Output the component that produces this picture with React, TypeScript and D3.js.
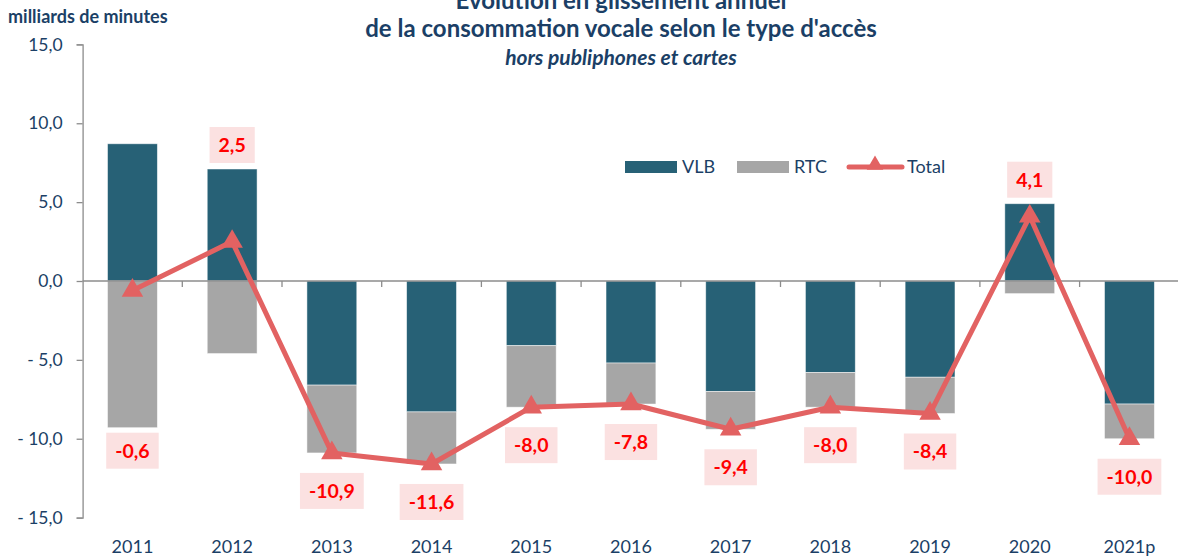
import React, { useEffect, useRef } from "react";
import * as d3 from "d3";

const years = ["2011", "2012", "2013", "2014", "2015", "2016", "2017", "2018", "2019", "2020", "2021p"];
const vlb = [8.7, 7.1, -6.6, -8.3, -4.1, -5.2, -7.0, -5.8, -6.1, 4.9, -7.8];
const rtc = [-9.3, -4.6, -4.3, -3.3, -3.9, -2.6, -2.4, -2.2, -2.3, -0.8, -2.2];
const total = [-0.6, 2.5, -10.9, -11.6, -8.0, -7.8, -9.4, -8.0, -8.4, 4.1, -10.0];
const yTicks = [15, 10, 5, 0, -5, -10, -15];

const W = 1178;
const H = 557;
const FONT = "Lato, 'Open Sans', sans-serif";
const C_VLB = "#276176";
const C_RTC = "#A6A6A6";
const C_TOT = "#E26262";
const C_TXT = "#1B3F66";

const fmtAxis = (v: number) => (v < 0 ? "- " : "") + d3.format(".1f")(Math.abs(v)).replace(".", ",");
const fmtLabel = (v: number) => (v < 0 ? "-" : "") + d3.format(".1f")(Math.abs(v)).replace(".", ",");

const App = () => {
  const svgRef = useRef<SVGSVGElement>(null);

  useEffect(() => {
    const svg = d3.select(svgRef.current);
    svg.selectAll("*").remove();

    const x = d3.scaleBand<string>().domain(years).range([82.6, 1179.3]).paddingInner(0.5).paddingOuter(0.25);
    const y = d3.scaleLinear().domain([-15, 15]).range([517.6, 44.4]);
    const step = x.step();
    const cx = (d: string) => (x(d) as number) + x.bandwidth() / 2;

    const rows = years.map((yr, i) => ({ year: yr, VLB: vlb[i], RTC: rtc[i] }));
    const stack = d3.stack<any>().keys(["VLB", "RTC"]).offset(d3.stackOffsetDiverging)(rows);
    const colors: Record<string, string> = { VLB: C_VLB, RTC: C_RTC };

    // titles (first line is cut by the top edge, as in the source image)
    const title = svg.append("g").attr("fill", C_TXT).attr("font-family", FONT).attr("text-anchor", "middle");
    title.append("text").attr("x", 621).attr("y", 9).attr("font-size", 24).attr("font-weight", "bold")
      .text("Evolution en glissement annuel");
    title.append("text").attr("x", 621).attr("y", 37).attr("font-size", 24).attr("font-weight", "bold")
      .text("de la consommation vocale selon le type d'accès");
    title.append("text").attr("x", 621).attr("y", 65).attr("font-size", 21).attr("font-weight", "bold")
      .attr("font-style", "italic").text("hors publiphones et cartes");
    svg.append("text").attr("x", 8).attr("y", 23).attr("fill", C_TXT).attr("font-family", FONT)
      .attr("font-size", 18).attr("font-weight", "bold").text("milliards de minutes");

    // bars
    stack.forEach((s) => {
      svg.append("g").selectAll("rect").data(s).enter().append("rect")
        .attr("x", (d: any) => x(d.data.year) as number)
        .attr("width", x.bandwidth())
        .attr("y", (d: any) => y(Math.max(d[0], d[1])))
        .attr("height", (d: any) => Math.abs(y(d[0]) - y(d[1])))
        .attr("fill", colors[s.key])
        .attr("stroke", "#ffffff")
        .attr("stroke-opacity", 0.6)
        .attr("stroke-width", 0.8);
    });

    // y axis
    const yAxis = svg.append("g").attr("transform", "translate(82.6,0)")
      .call(d3.axisLeft(y).tickValues(yTicks).tickSize(6).tickPadding(14).tickFormat((v: any) => fmtAxis(v)));
    yAxis.select(".domain").attr("stroke", "#8C8C8C").attr("stroke-width", 1.3);
    yAxis.selectAll(".tick line").attr("stroke", "#8C8C8C").attr("stroke-width", 1.3);
    yAxis.selectAll("text").attr("fill", C_TXT).attr("font-family", FONT).attr("font-size", 17.5);

    // x axis along zero
    const y0 = y(0);
    svg.append("line").attr("x1", 82.6).attr("x2", 1179.3).attr("y1", y0).attr("y2", y0)
      .attr("stroke", "#8C8C8C").attr("stroke-width", 1.5);
    svg.append("g").selectAll("line").data(years).enter().append("line")
      .attr("x1", (d) => (x(d) as number) + x.bandwidth() + (step - x.bandwidth()) / 2)
      .attr("x2", (d) => (x(d) as number) + x.bandwidth() + (step - x.bandwidth()) / 2)
      .attr("y1", y0).attr("y2", y0 + 6)
      .attr("stroke", "#8C8C8C").attr("stroke-width", 1.3);
    svg.append("g").selectAll("text").data(years).enter().append("text")
      .attr("x", cx).attr("y", 553).attr("text-anchor", "middle")
      .attr("fill", C_TXT).attr("font-family", FONT).attr("font-size", 18).text((d) => d);

    // total line
    const line = d3.line<number>().x((_, i) => cx(years[i])).y((d) => y(d));
    svg.append("path").datum(total).attr("d", line).attr("fill", "none")
      .attr("stroke", C_TOT).attr("stroke-width", 5).attr("stroke-linejoin", "round");
    svg.append("g").selectAll("path").data(total).enter().append("path")
      .attr("d", d3.symbol(d3.symbolTriangle, 200)())
      .attr("transform", (d, i) => `translate(${cx(years[i])},${y(d)})`)
      .attr("fill", C_TOT);

    // labels
    const lab = svg.append("g");
    total.forEach((t, i) => {
      const top = y(Math.max(0, vlb[i]) + Math.max(0, rtc[i]));
      const bottom = y(Math.min(0, vlb[i]) + Math.min(0, rtc[i]));
      const ly = t >= 0 ? Math.min(top - 24, y(t) - 36) : Math.max(bottom + 23, y(t) + 38);
      const g = lab.append("g");
      const txt = g.append("text").attr("x", cx(years[i])).attr("y", ly).attr("dy", "0.35em")
        .attr("text-anchor", "middle").attr("fill", "#FF0000").attr("font-family", FONT)
        .attr("font-size", 19.5).attr("font-weight", "bold").text(fmtLabel(t));
      const bb = (txt.node() as SVGTextElement).getBBox();
      g.insert("rect", "text").attr("x", bb.x - 9).attr("y", ly - 18).attr("width", bb.width + 18)
        .attr("height", 36).attr("fill", "#FBE1E1");
    });

    // legend
    const leg = svg.append("g").attr("font-family", FONT).attr("font-size", 18).attr("fill", C_TXT);
    leg.append("rect").attr("x", 625).attr("y", 161).attr("width", 52).attr("height", 12).attr("fill", C_VLB);
    leg.append("text").attr("x", 682).attr("y", 173).text("VLB");
    leg.append("rect").attr("x", 737).attr("y", 161).attr("width", 52).attr("height", 12).attr("fill", C_RTC);
    leg.append("text").attr("x", 794).attr("y", 173).text("RTC");
    leg.append("line").attr("x1", 849).attr("x2", 902).attr("y1", 167).attr("y2", 167)
      .attr("stroke", C_TOT).attr("stroke-width", 5).attr("stroke-linecap", "round");
    leg.append("path").attr("d", d3.symbol(d3.symbolTriangle, 120)())
      .attr("transform", "translate(875,165)").attr("fill", C_TOT);
    leg.append("text").attr("x", 907).attr("y", 173).text("Total");
  }, []);

  return (
    <svg ref={svgRef} width={W} height={H}
      style={{ position: "absolute", left: 0, top: 0, background: "#fff" }} />
  );
};

export default App;
